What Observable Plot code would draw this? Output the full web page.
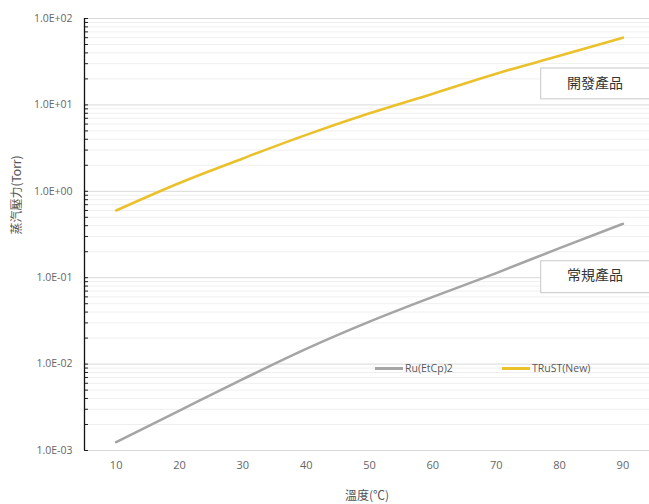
<!DOCTYPE html>
<html>
<head>
<meta charset="utf-8">
<script src="https://cdn.jsdelivr.net/npm/d3@7"></script>
<script src="https://cdn.jsdelivr.net/npm/@observablehq/plot@0.6"></script>
<style>
  html, body { margin: 0; padding: 0; background: #fff; }
  #wrap { position: relative; width: 649px; height: 504px; overflow: hidden; font-family: "Noto Sans CJK TC", "Open Sans", sans-serif; }
  .leg { position: absolute; top: 361px; display: flex; align-items: center; font-family: "Open Sans", "Noto Sans", sans-serif; font-size: 10.5px; color: #595959; }
  .leg .sw { width: 28px; height: 3px; margin-right: 2px; }
</style>
</head>
<body>
<div id="wrap"></div>
<script>
// ---- data ----
const temps = [10, 20, 30, 40, 50, 60, 70, 80, 90];
const ruEtCp2 = [0.00125, 0.0029, 0.0067, 0.015, 0.031, 0.06, 0.113, 0.22, 0.42];
const trust = [0.6, 1.25, 2.4, 4.5, 8, 13.5, 23, 37, 60];
const seriesNames = ["Ru(EtCp)2", "TRuST(New)"];
const seriesColors = ["#A5A5A5", "#EBC12B"];
const xTicks = [10, 20, 30, 40, 50, 60, 70, 80, 90];
const yMajor = [1e-3, 1e-2, 1e-1, 1e0, 1e1, 1e2];
const annotationLabels = ["開發產品", "常規產品"];
// annotation boxes in data units: [x1, x2, y1, y2, textX, textY]
const annotationBoxes = [[77.1, 96, 11.6, 26.4, 85.6, 17.7], [77.1, 96, 0.0662, 0.155, 85.6, 0.107]];

const W = 649, H = 504, mL = 84, mR = 0, mT = 18, mB = 54;
const plotW = W - mL - mR;

const yMinor = [];
for (let e = -3; e < 2; e++) for (let k = 2; k <= 9; k++) yMinor.push(k * Math.pow(10, e));

const rows = [];
temps.forEach((t, i) => {
  rows.push({t, v: ruEtCp2[i], s: seriesNames[0]});
  rows.push({t, v: trust[i], s: seriesNames[1]});
});
const ann = annotationLabels.map((label, i) => {
  const b = annotationBoxes[i];
  return {label, x1: b[0], x2: b[1], y1: b[2], y2: b[3], tx: b[4], ty: b[5]};
});

const fmt = d => {
  const e = Math.round(Math.log10(d));
  return "1.0E" + (e < 0 ? "-" : "+") + String(Math.abs(e)).padStart(2, "0");
};

const chart = Plot.plot({
  width: W, height: H,
  marginLeft: mL, marginRight: mR, marginTop: mT, marginBottom: mB,
  style: {background: "#fff", fontFamily: "'Open Sans', 'Noto Sans', sans-serif", overflow: "hidden"},
  x: {domain: [5, 94.2]},
  y: {type: "log", domain: [1e-3, 1e2]},
  color: {domain: seriesNames, range: seriesColors},
  marks: [
    Plot.ruleY(yMinor, {stroke: "#efefef", strokeWidth: 1}),
    Plot.ruleY(yMajor, {stroke: "#d9d9d9", strokeWidth: 1}),
    Plot.ruleY(yMinor.concat(yMajor), {stroke: "#222", strokeWidth: 1, insetRight: plotW - 4}),
    Plot.ruleX([5], {stroke: "#111", strokeWidth: 1.3}),
    Plot.line(rows, {x: "t", y: "v", z: "s", stroke: "s", strokeWidth: 2.6, curve: "monotone-x"}),
    Plot.rect(ann, {x1: "x1", x2: "x2", y1: "y1", y2: "y2", fill: "#fff", stroke: "#c8c8c8", strokeWidth: 1}),
    Plot.text(ann, {x: "tx", y: "ty", text: "label", fontSize: 14, fill: "#333", fontFamily: "'Noto Sans CJK TC', sans-serif"}),
    Plot.axisX(xTicks, {tickSize: 0, tickPadding: 11, fontSize: 11, color: "#666", label: null}),
    Plot.axisY(yMajor, {tickSize: 0, tickPadding: 12, fontSize: 10.5, color: "#666", tickFormat: fmt, label: null}),
    Plot.text(["溫度(℃)"], {frameAnchor: "bottom", dy: 49, fontSize: 12, fill: "#555", fontFamily: "'Noto Sans CJK TC', sans-serif"}),
    Plot.text(["蒸汽壓力(Torr)"], {frameAnchor: "left", dx: -67, rotate: -90, fontSize: 12, fill: "#555", fontFamily: "'Noto Sans CJK TC', sans-serif"})
  ]
});

const wrap = document.getElementById("wrap");
wrap.appendChild(chart);

// legend
const legendLeft = [375, 502];
seriesNames.forEach((name, i) => {
  const d = document.createElement("div");
  d.className = "leg";
  d.style.left = legendLeft[i] + "px";
  const sw = document.createElement("span");
  sw.className = "sw";
  sw.style.background = seriesColors[i];
  const tx = document.createElement("span");
  tx.textContent = name;
  d.appendChild(sw); d.appendChild(tx);
  wrap.appendChild(d);
});
</script>
</body>
</html>
